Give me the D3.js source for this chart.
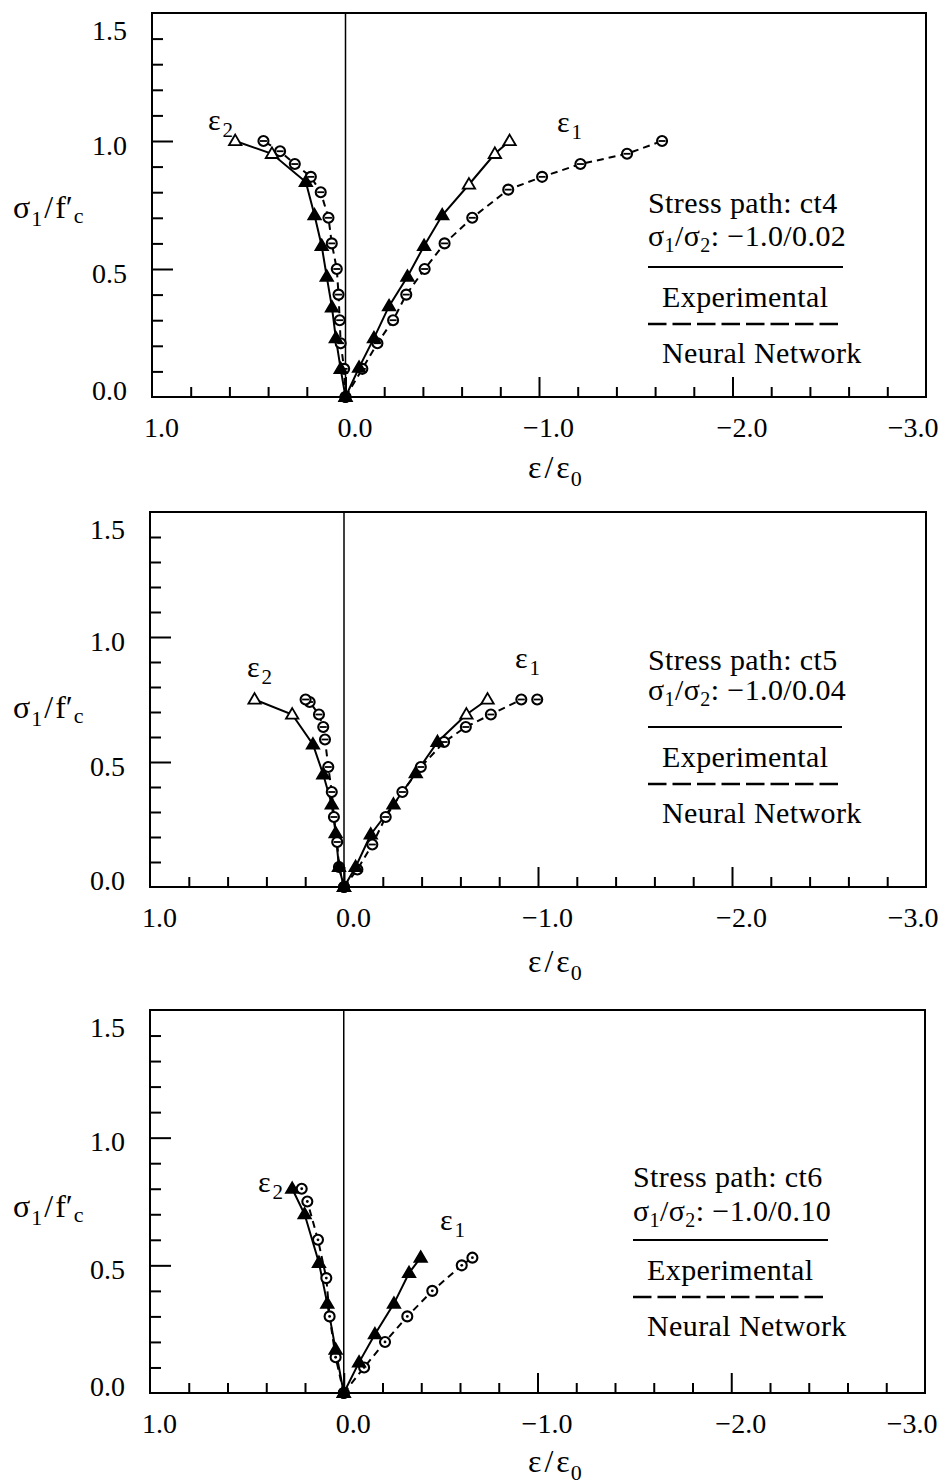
<!DOCTYPE html>
<html>
<head>
<meta charset="utf-8">
<script src="https://cdn.jsdelivr.net/npm/d3@7"></script>
<style>
  html, body { margin: 0; padding: 0; background: #fff; }
  svg { display: block; font-family: "Liberation Serif", "Times New Roman", serif; }
</style>
</head>
<body>
<svg id="chart" width="946" height="1484"></svg>
<script>
// ---------- axis tick values and labels ----------
const xLabelValues = [1, 0, -1, -2, -3];
const xTickLabels  = ["1.0", "0.0", "\u22121.0", "\u22122.0", "\u22123.0"];
const yLabelValues = [0, 0.5, 1.0, 1.5];
const yTickLabels  = ["0.0", "0.5", "1.0", "1.5"];

// ---------- stress path ct4 (σ1/σ2 = −1.0/0.02) : [ε/ε0, σ1/f'c] ----------
const ct4Eps2Exp = [[0,0],[0.025,0.11],[0.05,0.23],[0.07,0.35],[0.097,0.47],[0.123,0.59],[0.16,0.71],[0.205,0.84],[0.38,0.95],[0.57,1.0]];
const ct4Eps2NN  = [[0,0],[0.007,0.11],[0.025,0.21],[0.03,0.30],[0.036,0.40],[0.045,0.50],[0.071,0.60],[0.088,0.70],[0.128,0.80],[0.179,0.86],[0.262,0.91],[0.338,0.96],[0.424,1.0]];
const ct4Eps1Exp = [[0,0],[-0.07,0.115],[-0.147,0.23],[-0.225,0.355],[-0.32,0.47],[-0.406,0.59],[-0.5,0.71],[-0.638,0.83],[-0.772,0.95],[-0.848,1.0]];
const ct4Eps1NN  = [[0,0],[-0.087,0.11],[-0.165,0.21],[-0.246,0.30],[-0.314,0.40],[-0.409,0.50],[-0.512,0.60],[-0.655,0.70],[-0.841,0.81],[-1.016,0.86],[-1.214,0.91],[-1.455,0.95],[-1.636,1.0]];

// ---------- stress path ct5 (σ1/σ2 = −1.0/0.04) ----------
const ct5Eps2Exp = [[0,0],[0.026,0.08],[0.043,0.215],[0.063,0.33],[0.107,0.45],[0.16,0.57],[0.267,0.69],[0.461,0.75]];
const ct5Eps2NN  = [[0,0],[0.026,0.08],[0.035,0.18],[0.052,0.28],[0.063,0.38],[0.081,0.48],[0.098,0.59],[0.107,0.64],[0.129,0.69],[0.177,0.74],[0.198,0.75]];
const ct5Eps1Exp = [[0,0],[-0.06,0.08],[-0.138,0.21],[-0.255,0.33],[-0.37,0.455],[-0.482,0.58],[-0.631,0.69],[-0.74,0.75]];
const ct5Eps1NN  = [[0,0],[-0.069,0.07],[-0.146,0.17],[-0.215,0.28],[-0.301,0.38],[-0.396,0.48],[-0.516,0.58],[-0.628,0.64],[-0.757,0.69],[-0.914,0.75],[-0.996,0.75]];

// ---------- stress path ct6 (σ1/σ2 = −1.0/0.10) ----------
const ct6Eps2Exp = [[0,0],[0.042,0.17],[0.085,0.35],[0.128,0.51],[0.202,0.70],[0.266,0.80]];
const ct6Eps2NN  = [[0,0],[0.042,0.14],[0.073,0.30],[0.09,0.45],[0.133,0.60],[0.188,0.75],[0.217,0.80]];
const ct6Eps1Exp = [[0,0],[-0.079,0.12],[-0.161,0.23],[-0.259,0.35],[-0.337,0.47],[-0.397,0.53]];
const ct6Eps1NN  = [[0,0],[-0.105,0.10],[-0.213,0.20],[-0.328,0.30],[-0.457,0.40],[-0.609,0.50],[-0.664,0.53]];

const pathNames = ["ct4", "ct5", "ct6"];
const ratioLabels = ["\u22121.0/0.02", "\u22121.0/0.04", "\u22121.0/0.10"];

// ---------- panel layout ----------
const panels = [
  { name: pathNames[0], ratio: ratioLabels[0],
    left: 152, right: 926, top: 13, bottom: 397,
    eps2Exp: ct4Eps2Exp, eps2NN: ct4Eps2NN, eps1Exp: ct4Eps1Exp, eps1NN: ct4Eps1NN,
    open2: 2, open1: 3, dotMark: false,
    eps2Pos: [208, 130], eps1Pos: [557, 132],
    legend: { x: 648, t1: 213, t2: 246, solid: 267, exp: 307, dash: 324, nn: 363, w: 195, inset: 14 },
    yTitle: 218, xTitle: 478 },
  { name: pathNames[1], ratio: ratioLabels[1],
    left: 150, right: 926, top: 512, bottom: 887,
    eps2Exp: ct5Eps2Exp, eps2NN: ct5Eps2NN, eps1Exp: ct5Eps1Exp, eps1NN: ct5Eps1NN,
    open2: 2, open1: 2, dotMark: false,
    eps2Pos: [247, 677], eps1Pos: [515, 668],
    legend: { x: 648, t1: 670, t2: 700, solid: 727, exp: 767, dash: 784, nn: 823, w: 194, inset: 14 },
    yTitle: 718, xTitle: 972 },
  { name: pathNames[2], ratio: ratioLabels[2],
    left: 150, right: 925, top: 1010, bottom: 1393,
    eps2Exp: ct6Eps2Exp, eps2NN: ct6Eps2NN, eps1Exp: ct6Eps1Exp, eps1NN: ct6Eps1NN,
    open2: 0, open1: 0, dotMark: true,
    eps2Pos: [258, 1192], eps1Pos: [440, 1230],
    legend: { x: 633, t1: 1187, t2: 1221, solid: 1240, exp: 1280, dash: 1297, nn: 1336, w: 195, inset: 14 },
    yTitle: 1217, xTitle: 1472 }
];

const svg = d3.select("#chart");
const INK = "#000";

function drawPanel(p) {
  const g = svg.append("g");
  const x = d3.scaleLinear().domain([1, -3]).range([p.left, p.right]);
  const y = d3.scaleLinear().domain([0, 1.5]).range([p.bottom, p.top]);

  // minor / major ticks pointing into the plot
  const xMinor = d3.range(0, 21).map(i => 1 - i * 0.2).filter(v => Math.abs(v - Math.round(v)) > 1e-6);
  const xMajor = [0, -1, -2];
  const yMinor = d3.range(1, 15).map(i => i * 0.1).filter(v => Math.abs(v * 2 - Math.round(v * 2)) > 1e-6);
  const yMajor = [0.5, 1.0];

  const styleAxis = sel => {
    sel.select(".domain").remove();
    sel.selectAll("line").attr("stroke", INK).attr("stroke-width", 2);
  };

  g.append("g").attr("transform", `translate(0,${p.bottom})`)
    .call(d3.axisBottom(x).tickValues(xMinor).tickSizeInner(-10).tickSizeOuter(0).tickFormat(""))
    .call(styleAxis);
  g.append("g").attr("transform", `translate(0,${p.bottom})`)
    .call(d3.axisBottom(x).tickValues(xMajor).tickSizeInner(-20).tickSizeOuter(0).tickFormat(""))
    .call(styleAxis);
  g.append("g").attr("transform", `translate(${p.left},0)`)
    .call(d3.axisLeft(y).tickValues(yMinor).tickSizeInner(-11).tickSizeOuter(0).tickFormat(""))
    .call(styleAxis);
  g.append("g").attr("transform", `translate(${p.left},0)`)
    .call(d3.axisLeft(y).tickValues(yMajor).tickSizeInner(-21).tickSizeOuter(0).tickFormat(""))
    .call(styleAxis);

  // tick labels (serif, like the rest of the figure)
  const xl = g.append("g").attr("transform", `translate(0,${p.bottom})`)
    .call(d3.axisBottom(x).tickValues(xLabelValues).tickSize(0)
      .tickFormat((d, i) => xTickLabels[i]));
  xl.attr("font-family", null).attr("font-size", null);
  xl.select(".domain").remove();
  xl.selectAll("text")
    .attr("y", 40).attr("dy", 0)
    .attr("font-size", 28).attr("fill", INK)
    .attr("dx", d => d === -3 ? 12 : 9)
    .attr("text-anchor", d => d === -3 ? "end" : "middle");

  const yl = g.append("g").attr("transform", `translate(${p.left},0)`)
    .call(d3.axisLeft(y).tickValues(yLabelValues).tickSize(0).tickPadding(25)
      .tickFormat((d, i) => yTickLabels[i]));
  yl.attr("font-family", null).attr("font-size", null);
  yl.select(".domain").remove();
  yl.selectAll("text")
    .attr("font-size", 28).attr("fill", INK)
    .attr("dy", d => d === 1.5 ? 26 : d === 0 ? 2 : 13);

  // zero strain line
  g.append("line")
    .attr("x1", x(0)).attr("x2", x(0)).attr("y1", p.top).attr("y2", p.bottom)
    .attr("stroke", INK).attr("stroke-width", 1.5);

  // frame
  g.append("rect")
    .attr("x", p.left).attr("y", p.top)
    .attr("width", p.right - p.left).attr("height", p.bottom - p.top)
    .attr("fill", "none").attr("stroke", INK).attr("stroke-width", 2);

  // curves
  const line = d3.line().x(d => x(d[0])).y(d => y(d[1]));
  [p.eps2Exp, p.eps1Exp].forEach(s => {
    g.append("path").datum(s).attr("d", line)
      .attr("fill", "none").attr("stroke", INK).attr("stroke-width", 2);
  });
  [p.eps2NN, p.eps1NN].forEach(s => {
    g.append("path").datum(s).attr("d", line)
      .attr("fill", "none").attr("stroke", INK).attr("stroke-width", 2)
      .attr("stroke-dasharray", "7,5");
  });

  // network output markers (circles)
  [p.eps2NN, p.eps1NN].forEach(s => {
    const m = g.append("g").selectAll("g").data(s).join("g")
      .attr("transform", d => `translate(${x(d[0])},${y(d[1])})`);
    m.append("circle").attr("r", 5)
      .attr("fill", "#fff").attr("stroke", INK).attr("stroke-width", 2.1);
    if (p.dotMark) {
      m.append("circle").attr("r", 1.4).attr("fill", INK);
    } else {
      m.append("line").attr("x1", -3.5).attr("x2", 3.5).attr("y1", 0).attr("y2", 0)
        .attr("stroke", INK).attr("stroke-width", 1.8);
    }
  });

  // experimental markers (triangles); points near the branch end drawn open
  const tri = "M0,-6.4L6.2,4.2L-6.2,4.2Z";
  [[p.eps2Exp, p.open2], [p.eps1Exp, p.open1]].forEach(([s, nOpen]) => {
    g.append("g").selectAll("path").data(s).join("path")
      .attr("d", tri)
      .attr("transform", d => `translate(${x(d[0])},${y(d[1])})`)
      .attr("fill", (d, i) => i >= s.length - nOpen ? "#fff" : INK)
      .attr("stroke", INK).attr("stroke-width", 1.8)
      .attr("stroke-linejoin", "miter");
  });

  // branch labels ε2 / ε1
  const branch = (pos, sub) => {
    const t = g.append("text").attr("x", pos[0]).attr("y", pos[1])
      .attr("font-size", 30).attr("fill", INK);
    t.append("tspan").text("\u03b5");
    t.append("tspan").attr("font-size", 21).attr("dx", 2).attr("dy", 7).text(sub);
  };
  branch(p.eps2Pos, "2");
  branch(p.eps1Pos, "1");

  // legend block
  const L = p.legend;
  g.append("text").attr("x", L.x).attr("y", L.t1).attr("font-size", 30)
    .attr("letter-spacing", 0.4).attr("fill", INK)
    .text("Stress path: " + p.name);
  const r = g.append("text").attr("x", L.x).attr("y", L.t2).attr("font-size", 30)
    .attr("letter-spacing", 0.4).attr("fill", INK);
  r.append("tspan").text("\u03c3");
  r.append("tspan").attr("font-size", 20).attr("dy", 6).text("1");
  r.append("tspan").attr("dy", -6).text("/\u03c3");
  r.append("tspan").attr("font-size", 20).attr("dy", 6).text("2");
  r.append("tspan").attr("dy", -6).text(": " + p.ratio);

  g.append("line").attr("x1", L.x).attr("x2", L.x + L.w).attr("y1", L.solid).attr("y2", L.solid)
    .attr("stroke", INK).attr("stroke-width", 2.2);
  g.append("text").attr("x", L.x + L.inset).attr("y", L.exp).attr("font-size", 30)
    .attr("letter-spacing", 0.4).attr("fill", INK).text("Experimental");
  g.append("line").attr("x1", L.x).attr("x2", L.x + L.w).attr("y1", L.dash).attr("y2", L.dash)
    .attr("stroke", INK).attr("stroke-width", 2.4).attr("stroke-dasharray", "18.5,6");
  g.append("text").attr("x", L.x + L.inset).attr("y", L.nn).attr("font-size", 30)
    .attr("letter-spacing", 0.4).attr("fill", INK).text("Neural Network");

  // axis titles
  const yt = g.append("text").attr("x", 13).attr("y", p.yTitle).attr("font-size", 32).attr("fill", INK);
  yt.append("tspan").text("\u03c3");
  yt.append("tspan").attr("font-size", 22).attr("dx", 1).attr("dy", 8).text("1");
  yt.append("tspan").attr("dx", 2).attr("dy", -8).text("/");
  yt.append("tspan").attr("dx", 2).text("f\u2032");
  yt.append("tspan").attr("font-size", 22).attr("dx", 1).attr("dy", 5).text("c");

  const xt = g.append("text").attr("x", 528).attr("y", p.xTitle).attr("font-size", 32).attr("fill", INK);
  xt.append("tspan").text("\u03b5");
  xt.append("tspan").attr("dx", 3).text("/");
  xt.append("tspan").attr("dx", 3).text("\u03b5");
  xt.append("tspan").attr("font-size", 22).attr("dx", 1).attr("dy", 8).text("0");
}

panels.forEach(drawPanel);
</script>
</body>
</html>
